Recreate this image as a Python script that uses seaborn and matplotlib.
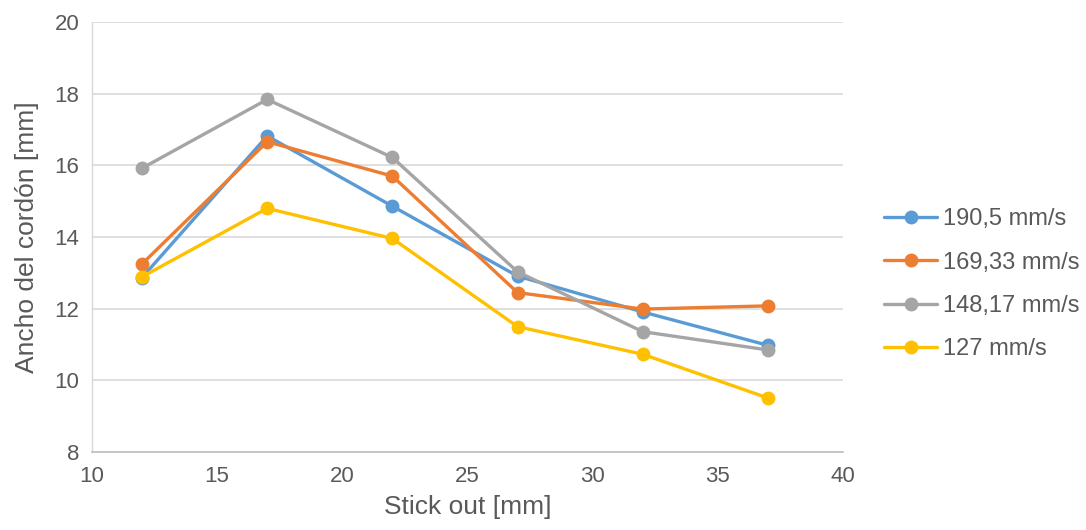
import matplotlib
matplotlib.use("Agg")
import matplotlib.pyplot as plt
import seaborn as sns
import pandas as pd

stick_out = [12, 17, 22, 27, 32, 37]
series_names = ["190,5 mm/s", "169,33 mm/s", "148,17 mm/s", "127 mm/s"]
v_190 = [12.87, 16.82, 14.86, 12.91, 11.91, 10.98]
v_169 = [13.25, 16.66, 15.70, 12.45, 11.99, 12.08]
v_148 = [15.92, 17.84, 16.22, 13.03, 11.36, 10.85]
v_127 = [12.89, 14.80, 13.96, 11.50, 10.73, 9.51]
colors = ["#5B9BD5", "#ED7D31", "#A5A5A5", "#FFC000"]

rows = []
for name, vals in zip(series_names, [v_190, v_169, v_148, v_127]):
    for x, y in zip(stick_out, vals):
        rows.append({"x": x, "y": y, "serie": name})
df = pd.DataFrame(rows)

sns.set_theme(style="white")
plt.rcParams["font.family"] = ["Liberation Sans", "DejaVu Sans"]

fig = plt.figure(figsize=(10.86, 5.30), dpi=100)
ax = fig.add_axes([0.0847, 0.147, 0.6915, 0.8115])

sns.lineplot(data=df, x="x", y="y", hue="serie", hue_order=series_names,
             palette=colors, marker="o", markersize=10, markeredgewidth=0,
             linewidth=2.4, ax=ax, legend=True)

ax.set_xlim(10, 40)
ax.set_ylim(8, 20)
ax.set_xticks(range(10, 41, 5))
ax.set_yticks(range(8, 21, 2))
ax.grid(axis="y", color="#d9d9d9", linewidth=1.2)
ax.set_axisbelow(True)
for side in ["top", "right"]:
    ax.spines[side].set_visible(False)
ax.spines["left"].set_color("#d9d9d9")
ax.spines["bottom"].set_color("#bfbfbf")
ax.spines["left"].set_linewidth(1.0)
ax.spines["bottom"].set_linewidth(1.2)
ax.tick_params(axis="y", length=0, labelsize=16, colors="#595959", pad=9)
ax.tick_params(axis="x", length=0, labelsize=16, colors="#595959", pad=10)

ax.set_xlabel("Stick out [mm]", fontsize=19, color="#595959", labelpad=6)
ax.set_ylabel("Ancho del cordón [mm]", fontsize=19, color="#595959", labelpad=11)

handles, labels = ax.get_legend_handles_labels()
leg = ax.legend(handles, labels, loc="center left", bbox_to_anchor=(1.0546, 0.39),
                frameon=False, fontsize=17, handlelength=2.25,
                labelspacing=0.9, handletextpad=0.25,
                borderaxespad=0, borderpad=0)
for t in leg.get_texts():
    t.set_color("#595959")

fig.savefig("out.png", dpi=100)
